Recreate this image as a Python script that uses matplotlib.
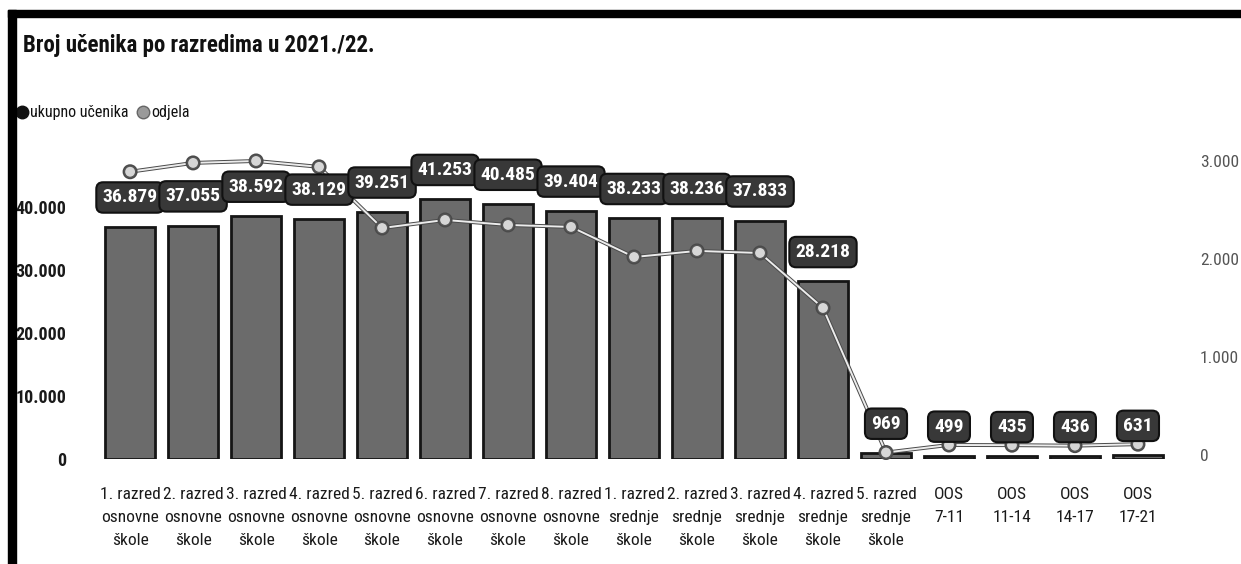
import matplotlib
matplotlib.use('Agg')
import matplotlib.pyplot as plt
import matplotlib.patheffects as pe
from matplotlib.patches import Rectangle
from matplotlib.ticker import FuncFormatter
import numpy as np

plt.rcParams['font.family'] = ['Roboto Condensed', 'DejaVu Sans']
plt.rcParams['font.stretch'] = 'condensed'

#%% Data
razredi = ['1. razred\nosnovne\nškole', '2. razred\nosnovne\nškole', '3. razred\nosnovne\nškole',
           '4. razred\nosnovne\nškole', '5. razred\nosnovne\nškole', '6. razred\nosnovne\nškole',
           '7. razred\nosnovne\nškole', '8. razred\nosnovne\nškole', '1. razred\nsrednje\nškole',
           '2. razred\nsrednje\nškole', '3. razred\nsrednje\nškole', '4. razred\nsrednje\nškole',
           '5. razred\nsrednje\nškole', 'OOS\n7-11', 'OOS\n11-14', 'OOS\n14-17', 'OOS\n17-21']
ucenika = [36879, 37055, 38592, 38129, 39251, 41253, 40485, 39404, 38233, 38236, 37833, 28218,
           969, 499, 435, 436, 631]
odjela = [2890, 2980, 3000, 2940, 2316, 2398, 2347, 2327, 2020, 2082, 2061, 1500,
          25, 102, 100, 95, 110]

Y1_MAX = 52222
Y2_MIN, Y2_MAX = -41, 3316

def tocka(v, pos=None):
    # thousands separator as a dot
    return f'{int(v):,}'.replace(',', '.')

#%% Figure
fig = plt.figure(figsize=(12.41, 5.64), dpi=100)
ax = fig.add_axes([0.0693, 0.1862, 0.8832, 0.5833])
ax2 = ax.twinx()

x = np.arange(len(ucenika))
ax.bar(x, ucenika, width=0.79, color='#6b6b6b', edgecolor='#151515', linewidth=2, zorder=2)
ax.set_xlim(-0.7, len(ucenika) - 0.3)
ax.set_ylim(0, Y1_MAX)
ax2.set_ylim(Y2_MIN, Y2_MAX)

ax.set_yticks([0, 10000, 20000, 30000, 40000])
ax.yaxis.set_major_formatter(FuncFormatter(tocka))
ax2.set_yticks([0, 1000, 2000, 3000])
ax2.yaxis.set_major_formatter(FuncFormatter(tocka))
ax.tick_params(axis='y', length=0, pad=14.4, labelsize=13, labelcolor='#1a1a1a')
for t in ax.get_yticklabels():
    t.set_fontweight('bold')
ax2.tick_params(axis='y', length=0, pad=13, labelsize=12.5, labelcolor='#555555')

ax.set_xticks(x)
ax.set_xticklabels(razredi, fontsize=12.5, color='#1a1a1a', linespacing=1.68)
ax.tick_params(axis='x', length=0, pad=20)

for a in (ax, ax2):
    for s in a.spines.values():
        s.set_visible(False)

# broj odjela as a line on the right axis
ax2.plot(x, odjela, color='#ececec', linewidth=1.4, marker='o', markersize=8,
         markerfacecolor='#d6d6d6', markeredgecolor='#555555', markeredgewidth=0.9,
         zorder=3, clip_on=False,
         path_effects=[pe.Stroke(linewidth=2.8, foreground='#4a4a4a'), pe.Normal()])

# value boxes above the bars (bar tops converted to the right axis scale)
for i, v in enumerate(ucenika):
    y2 = Y2_MIN + v / Y1_MAX * (Y2_MAX - Y2_MIN)
    ax2.annotate(tocka(v), xy=(i, y2), xytext=(0, 21),
                 textcoords='offset points', ha='center', va='center',
                 fontsize=14, fontweight='bold', color='white', annotation_clip=False,
                 zorder=10 + i,
                 bbox=dict(boxstyle='round,pad=0.32,rounding_size=0.35', fc='#383838',
                           ec='#111111', lw=1.5))

#%% Title, legend, frame
fig.text(0.0185, 0.92, 'Broj učenika po razredima u 2021./22.', fontsize=16.5,
         fontweight='bold', color='#111111', va='center', ha='left')

fig.add_artist(plt.Line2D([0.0177], [0.801], marker='o', markersize=9, color='#111111',
                          transform=fig.transFigure))
fig.text(0.0245, 0.801, 'ukupno učenika', fontsize=11.5, color='#111111', va='center')
fig.add_artist(plt.Line2D([0.1152], [0.801], marker='o', markersize=9, color='#9a9a9a',
                          markeredgecolor='#666666', transform=fig.transFigure))
fig.text(0.1220, 0.801, 'odjela', fontsize=11.5, color='#111111', va='center')

fig.add_artist(Rectangle((0.0064, 0.970), 0.9936, 0.012, transform=fig.transFigure,
                         color='black', zorder=20))
fig.add_artist(Rectangle((0.0064, 0.0), 0.0066, 0.982, transform=fig.transFigure,
                         color='black', zorder=20))

fig.savefig('out.png', dpi=100)
